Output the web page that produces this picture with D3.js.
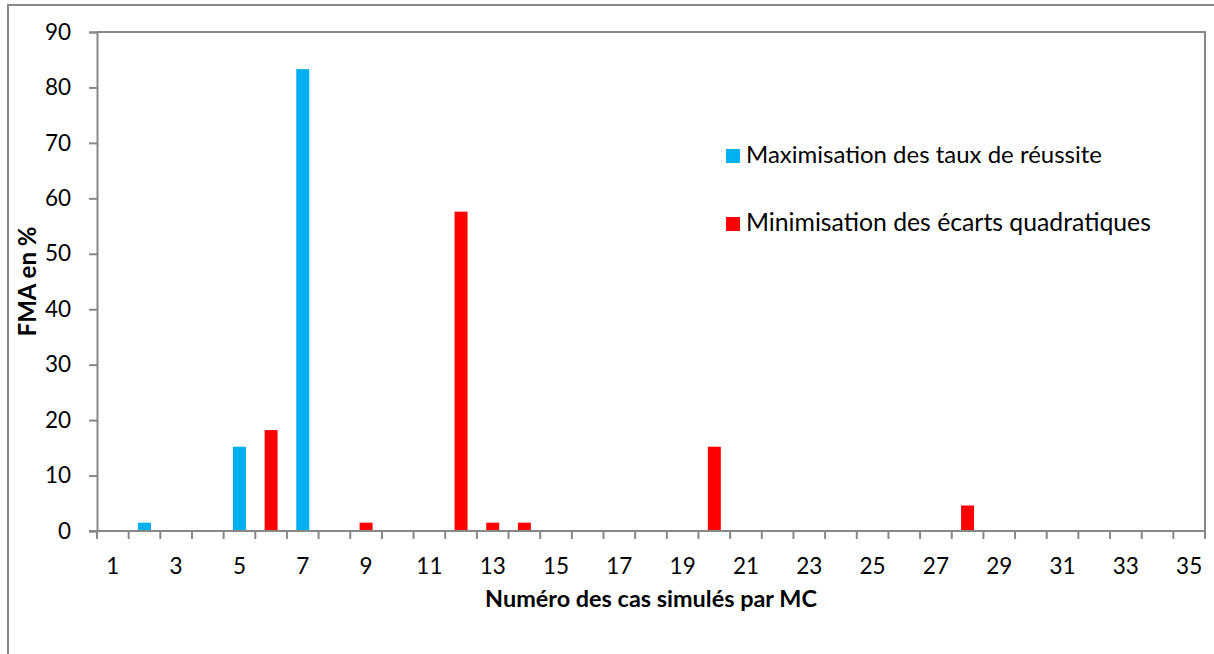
<!DOCTYPE html>
<html><head><meta charset="utf-8">
<script src="https://cdn.jsdelivr.net/npm/d3@7"></script>
<style>
body{margin:0;background:#fff;overflow:hidden}
text{font-family:Lato,'Open Sans',sans-serif;fill:#000}
</style>
</head><body>
<svg id="c" width="1214" height="654"></svg>
<script>
// ---- data ----
const categories = ["1","2","3","4","5","6","7","8","9","10","11","12","13","14","15","16","17","18","19","20","21","22","23","24","25","26","27","28","29","30","31","32","33","34","35"];
const maxTaux   = [0,1.5,0,0,15.2,0,83.3,0,0,0,0,0,0,0,0,0,0,0,0,0,0,0,0,0,0,0,0,0,0,0,0,0,0,0,0];
const minEcarts = [0,0,0,0,0,18.2,0,0,1.5,0,0,57.6,1.5,1.5,0,0,0,0,0,15.2,0,0,0,0,0,0,0,4.6,0,0,0,0,0,0,0];
const yTicks = [0,10,20,30,40,50,60,70,80,90];
const xTickLabels = ["1","3","5","7","9","11","13","15","17","19","21","23","25","27","29","31","33","35"];
const seriesNames = ["Maximisation des taux de réussite","Minimisation des écarts quadratiques"];
const seriesColors = ["#00B0F0","#FF0000"];
const yTitle = "FMA en %";
const xTitle = "Numéro des cas simulés par MC";

// ---- layout ----
const svg = d3.select("#c");
const L = 97, R = 1205, T = 32, B = 531;
const axisColor = "#888888";

function fit(sel, target){
  const len = sel.node().getComputedTextLength();
  const fs = parseFloat(sel.attr("font-size"));
  sel.attr("font-size", fs*target/len);
  return fs*target/len;
}

// outer chart border
svg.append("rect").attr("x",8).attr("y",5).attr("width",1300).attr("height",800)
  .attr("fill","none").attr("stroke",axisColor).attr("stroke-width",2);

const x = d3.scaleBand().domain(categories).range([L,R]).padding(0);
const y = d3.scaleLinear().domain([0,90]).range([B,T]);

// plot area border (top & right)
svg.append("path").attr("d",`M${L},${T}H${R}V${B}`).attr("fill","none")
  .attr("stroke",axisColor).attr("stroke-width",2);

// bars
const series = [maxTaux, minEcarts];
const bw = x.bandwidth()*0.41;
series.forEach((vals,si)=>{
  svg.append("g").selectAll("rect").data(categories.map((c,i)=>({c,v:vals[i]})).filter(d=>d.v>0))
    .join("rect")
    .attr("x",d=>x(d.c)+x.bandwidth()/2-bw/2)
    .attr("width",bw)
    .attr("y",d=>y(d.v))
    .attr("height",d=>y(0)-y(d.v))
    .attr("fill",seriesColors[si]);
});

// y axis
const gy = svg.append("g").attr("transform",`translate(${L},0)`)
  .call(d3.axisLeft(y).tickValues(yTicks).tickSize(8).tickPadding(18).tickFormat(d3.format("d")));
gy.selectAll(".domain").attr("stroke",axisColor).attr("stroke-width",2);
gy.selectAll(".tick line").attr("stroke",axisColor).attr("stroke-width",2);
gy.selectAll("text").attr("font-size",22.5).attr("font-family","Lato,'Open Sans',sans-serif").attr("fill","#000");

// x axis (labels at band centres, every other category)
const gx = svg.append("g").attr("transform",`translate(0,${B})`)
  .call(d3.axisBottom(x).tickValues(xTickLabels).tickSize(0).tickPadding(27));
gx.selectAll(".domain").remove();
gx.selectAll("text").attr("font-size",22.5).attr("font-family","Lato,'Open Sans',sans-serif").attr("fill","#000");
// boundary ticks
const bounds = categories.map(c=>x(c)).concat([x(categories[categories.length-1])+x.bandwidth()]);
svg.append("g").selectAll("line").data(bounds).join("line")
  .attr("x1",d=>d).attr("x2",d=>d).attr("y1",B).attr("y2",B+8)
  .attr("stroke",axisColor).attr("stroke-width",2);
svg.append("line").attr("x1",L-8).attr("x2",R).attr("y1",B).attr("y2",B)
  .attr("stroke",axisColor).attr("stroke-width",2);

// axis titles
const yt = svg.append("text").attr("font-size",20).attr("font-weight","bold")
  .attr("text-anchor","middle").attr("transform",`translate(36,${(T+B)/2}) rotate(-90)`).text(yTitle);
fit(yt,110);
const xt = svg.append("text").attr("font-size",20).attr("font-weight","bold")
  .attr("text-anchor","middle").attr("x",(L+R)/2).attr("y",607).text(xTitle);
fit(xt,332);

// legend
const lg = svg.append("g");
const legY = [163, 231];
const legW = [356, 405];
seriesNames.forEach((n,i)=>{
  lg.append("rect").attr("x",726).attr("y",legY[i]-14).attr("width",14).attr("height",14).attr("fill",seriesColors[i]);
  const t = lg.append("text").attr("x",746).attr("y",legY[i]).attr("font-size",22).text(n);
  fit(t,legW[i]);
});
</script>
</body></html>
